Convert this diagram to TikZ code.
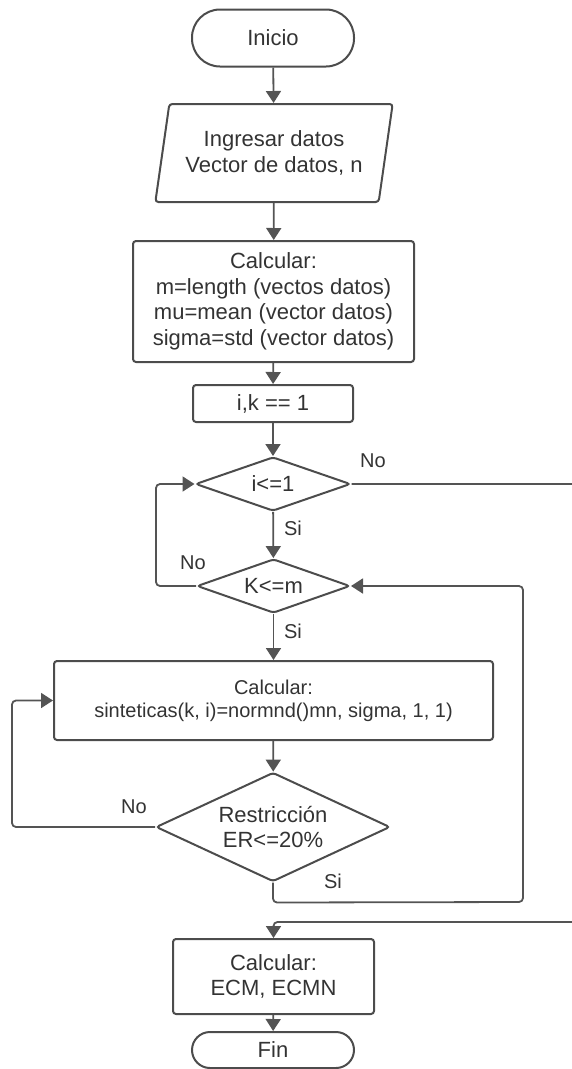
\documentclass[tikz,border=0pt]{standalone}
\usepackage{fontspec}
\setmainfont{Liberation Sans}
\usetikzlibrary{shapes.geometric,arrows.meta}

\begin{document}
\begin{tikzpicture}[x=1pt,y=-1pt,
            every node/.style={text=black!80,font=\fontsize{22}{25.5}\selectfont,align=center},
            box/.style={draw=black!70,line width=2pt,rounded corners=3pt,inner sep=0pt},
            term/.style={box,rounded corners=#1},
            dec/.style={box,diamond,aspect=2.5},
            io/.style={box,trapezium,trapezium left angle=75,trapezium right angle=105,trapezium stretches=true},
            line/.style={draw=black!67,line width=1.8pt,rounded corners=4pt,-{Triangle[length=12pt,width=15pt]}},
            lab/.style={font=\fontsize{20}{24}\selectfont}]
            \useasboundingbox (0,0) rectangle (571,1069);
            \node (inicio) at (273,38) [term=28pt,minimum width=162,minimum height=57] {Inicio};
            \node (datos) at (274,153) [io,minimum width=238,minimum height=98] {Ingresar datos\\Vector de datos, n};
            \node (calc1) at (273.5,301.5) [box,minimum width=281,minimum height=121] {Calcular:\\m=length (vectos datos)\\mu=mean (vector datos)\\sigma=std (vector datos)};
            \node (ik) at (273,403.5) [box,minimum width=160,minimum height=37] {i,k == 1};
            \node (d1) at (273,484) [dec,minimum width=155,minimum height=54] {i<=1};
            \node (d2) at (273.5,586) [dec,minimum width=153,minimum height=54] {K<=m};
            \node (calc2) at (273.5,700.5) [box,minimum width=439,minimum height=79,font=\fontsize{20}{23}\selectfont] {Calcular:\\sinteticas(k, i)=normnd()mn, sigma, 1, 1)};
            \node (d3) at (273,827) [dec,minimum width=234,minimum height=109] {Restricción\\ER<=20\%};
            \node (calc3) at (273.5,976.5) [box,minimum width=201,minimum height=75] {Calcular:\\ECM, ECMN};
            \node (fin) at (273,1050) [term=18pt,minimum width=162,minimum height=36] {Fin};
            \node (no1) at (373,461) [lab] {No};
            \node (si1) at (293,528) [lab] {Si};
            \node (no2) at (193,563) [lab] {No};
            \node (si2) at (293,631) [lab] {Si};
            \node (no3) at (134,807) [lab] {No};
            \node (si3) at (333,881) [lab] {Si};
            \draw[line] (inicio) -- (datos);
            \draw[line] (datos) -- (calc1);
            \draw[line] (calc1) -- (ik);
            \draw[line] (ik) -- (d1);
            \draw[line] (d1) -- (d2);
            \draw[line] (d2) -- (calc2);
            \draw[line] (d2.west) -- ++(-40,0) |- (d1.west);
            \draw[line] (calc2) -- (d3);
            \draw[line] (d3.west) -- ++(-143,0) |- (calc2.west);
            \draw[line] (d3.south) -- ++(0,20) -- (523,902) |- (d2.east);
            \draw[line] (d1.east) -- (590,484) -- (590,922) -| (calc3.north);
            \draw[line] (calc3) -- (fin);
        \end{tikzpicture}
\end{document}
